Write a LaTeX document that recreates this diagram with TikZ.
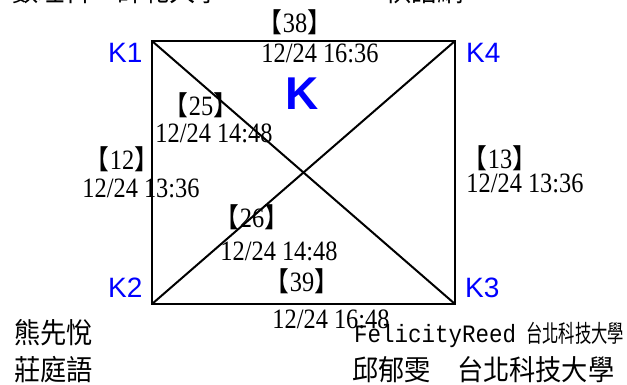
\documentclass[tikz,border=0pt]{standalone}
\usepackage{fontspec}
\newfontfamily\cjk[FakeStretch=0.92]{Noto Sans CJK TC}
\newfontfamily\cjks[FakeStretch=0.68]{Noto Sans CJK TC}
\newfontfamily\dtf[FakeStretch=0.87]{Liberation Serif}
\newfontfamily\ksf{Liberation Sans}
\newfontfamily\monof[FakeStretch=0.9]{Liberation Mono}
\definecolor{kblue}{RGB}{0,0,255}
\tikzset{
  sqline/.style={line width=2pt, line cap=round},
  klabel/.style={inner sep=0pt, anchor=base west, text=kblue, font=\ksf\fontsize{28}{28}\selectfont},
  bignode/.style={inner sep=0pt, anchor=base, text=kblue, font=\ksf\bfseries\fontsize{46}{46}\selectfont},
  numlbl/.style={inner sep=0pt, anchor=base, font=\dtf\fontsize{28}{28}\selectfont},
  datelbl/.style={inner sep=0pt, anchor=base, font=\dtf\fontsize{28}{28}\selectfont},
  pname/.style={inner sep=0pt, anchor=base west, font=\cjk\fontsize{28.5}{28.5}\selectfont},
}
\newcommand{\brk}[1]{{\cjk\fontsize{27}{27}\selectfont 【}#1{\cjk\fontsize{27}{27}\selectfont 】}}
\begin{document}
\begin{tikzpicture}[x=1pt,y=-1pt]
\useasboundingbox (0,0) rectangle (627,385);
% corners
\coordinate (c1) at (152,41);
\coordinate (c4) at (455,41);
\coordinate (c2) at (152,304);
\coordinate (c3) at (455,304);
\draw[sqline] (c1) -- (c4) -- (c3) -- (c2) -- cycle;
\draw[sqline] (c1) -- (c3);
\draw[sqline] (c2) -- (c4);
% corner labels
\node[klabel] (k1) at (108,63) {K1};
\node[klabel] (k4) at (466,63) {K4};
\node[klabel] (k2) at (108,297) {K2};
\node[klabel] (k3) at (465,297) {K3};
\node[bignode] (kk) at (302,110) {K};
% edge labels
\node[numlbl] (n38) at (295,33) {\brk{38}};
\node[datelbl] (d38) at (320,63) {12/24 16:36};
\node[numlbl] (n25) at (201,116) {\brk{25}};
\node[datelbl] (d25) at (214,143) {12/24 14:48};
\node[numlbl] (n12) at (122,170) {\brk{12}};
\node[datelbl] (d12) at (141,197) {12/24 13:36};
\node[numlbl] (n13) at (500,169) {\brk{13}};
\node[datelbl] (d13) at (525,193) {12/24 13:36};
\node[numlbl] (n26) at (252,228) {\brk{26}};
\node[datelbl] (d26) at (279,260) {12/24 14:48};
\node[numlbl] (n39) at (302,291) {\brk{39}};
\node[datelbl] (d39) at (331,328) {12/24 16:48};
% names
\node[pname] (p1) at (14,343) {熊先悅};
\node[pname] (p2) at (14,380) {莊庭語};
\node[inner sep=0pt, anchor=base west] (p3) at (354,342) {{\monof\fontsize{25}{25}\selectfont FelicityReed}\hspace{10pt}{\cjks\fontsize{24}{24}\selectfont 台北科技大學}};
\node[pname] (p4) at (352,380) {邱郁雯　台北科技大學};
% cut-off title line
\node[pname] (t1) at (12,2) {數理科　師範大學};
\node[pname] (t2) at (385,2) {棋譜網};
\end{tikzpicture}
\end{document}
